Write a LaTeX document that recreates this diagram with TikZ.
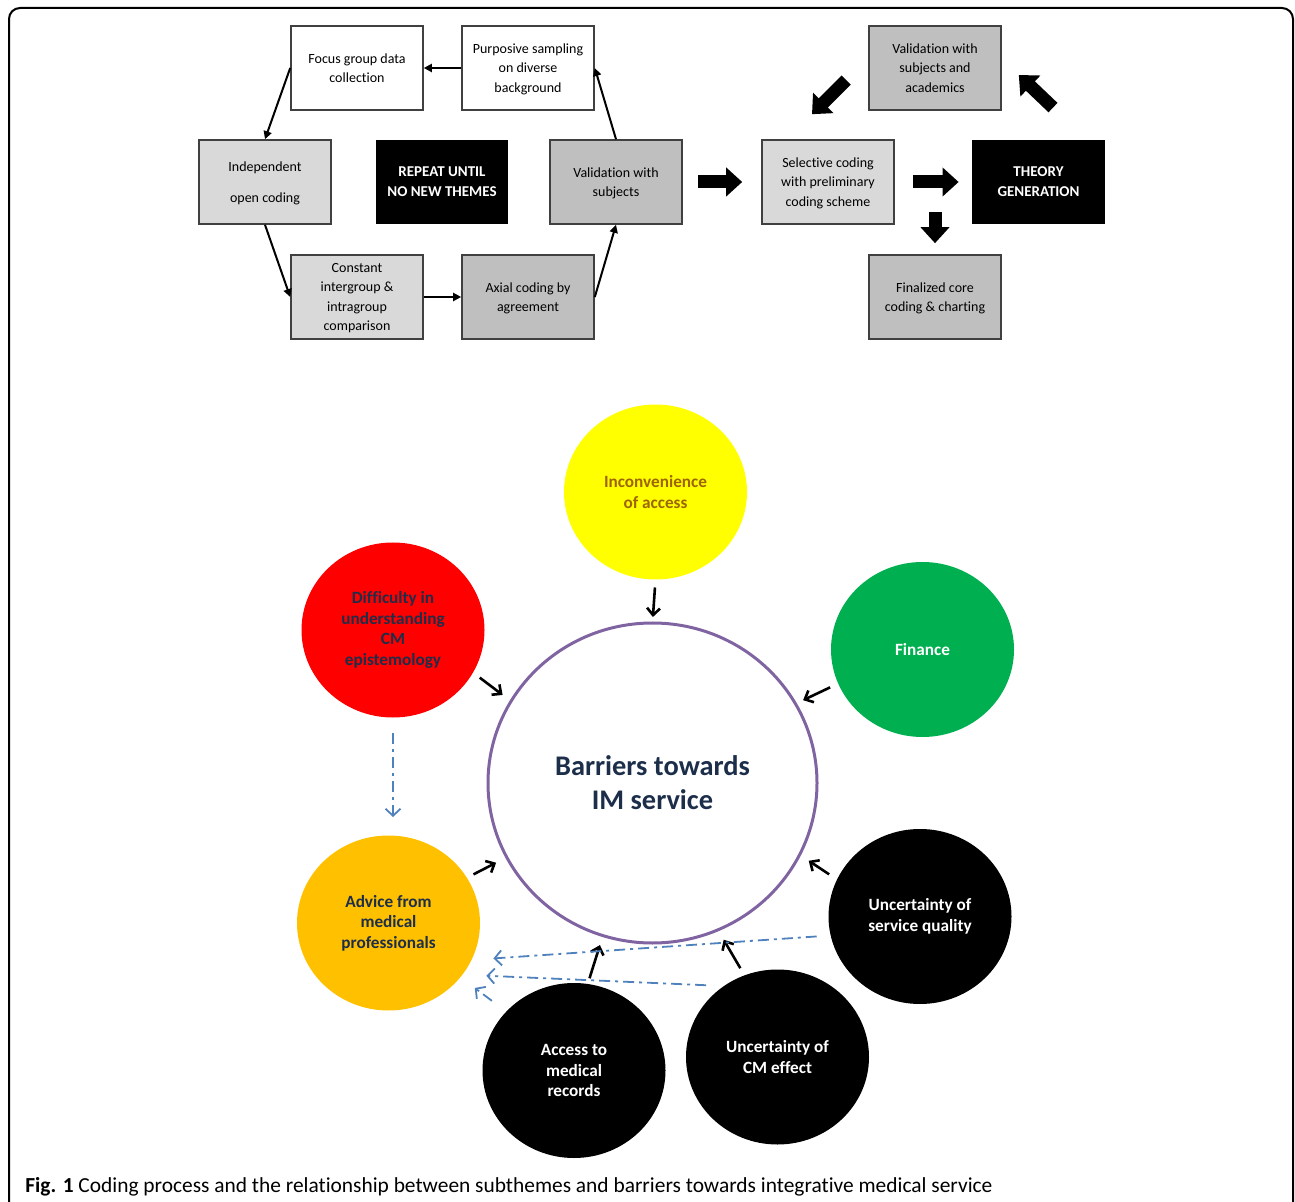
\documentclass[tikz,border=0pt]{standalone}
\usepackage{fontspec}
\setmainfont{Carlito}[Ligatures=NoCommon]
\usetikzlibrary{arrows.meta,shapes.geometric}
\definecolor{boxline}{HTML}{404040}
\definecolor{lightbox}{HTML}{D9D9D9}
\definecolor{midbox}{HTML}{BFBFBF}
\definecolor{corepurple}{HTML}{8064A2}
\definecolor{navytext}{HTML}{1C2E4A}
\definecolor{rednode}{HTML}{FF0000}
\definecolor{greennode}{HTML}{00B050}
\definecolor{yellownode}{HTML}{FFFF00}
\definecolor{goldnode}{HTML}{FFC000}
\definecolor{accesstext}{HTML}{9C6500}
\definecolor{dashblue}{HTML}{4F81BD}
\begin{document}
\begin{tikzpicture}[x=0.5pt, y=-0.5pt,
    codebox/.style={draw=boxline, line width=0.8pt, minimum width=66pt, minimum height=42pt,
        inner sep=0pt, align=center, text depth=0pt, font=\fontsize{7}{9.75}\selectfont},
    blackbox/.style={fill=black, text=white, minimum width=66pt, minimum height=42pt,
        inner sep=0pt, align=center, font=\fontsize{7.5}{10}\selectfont\bfseries},
    flow/.style={line width=1pt, -{Triangle[length=4pt,width=4pt]}},
    fat/.style={line width=6.5pt, -{Triangle[length=8pt,width=14pt]}},
    theme/.style={ellipse, minimum width=91.5pt, minimum height=87.5pt, inner sep=0pt,
        outer sep=0pt, align=center, font=\fontsize{8.6}{10.3}\selectfont\bfseries},
    push/.style={line width=1.3pt, -{Straight Barb[length=3.5pt,width=6.5pt]}},
    hint/.style={dashblue, line width=0.9pt, dash pattern=on 5.5pt off 2.5pt on 1.5pt off 2.5pt,
        -{Straight Barb[length=3.5pt,width=7.5pt]}}]
\useasboundingbox (0,0) rectangle (1295,1202);
\draw[line width=1pt, rounded corners=5.5pt] (9,8) rectangle (1293,1240);
% coding process
\foreach \n/\x/\y/\c/\t in {
    focus/357/68/white/{Focus group data\\collection},
    purp/528/68/white/{Purposive sampling\\on diverse\\background},
    indep/265/182/lightbox/{Independent\\[5.75pt]open coding},
    valid/616/182/midbox/{Validation with\\subjects},
    const/357/297/lightbox/{Constant\\intergroup \&\\intragroup\\comparison},
    axial/528/297/midbox/{Axial coding by\\agreement},
    sel/828/182/lightbox/{Selective coding\\with preliminary\\coding scheme},
    acad/935/68/midbox/{Validation with\\subjects and\\academics},
    final/935/297/midbox/{Finalized core\\coding \& charting}} {
    \node[codebox, fill=\c] (\n) at (\x,\y) {\t};
}
\node[blackbox] (repeat) at (442,182) {REPEAT UNTIL\\NO NEW THEMES};
\node[blackbox, minimum width=66.5pt] (theory) at (1038.5,182) {THEORY\\GENERATION};
\foreach \a/\b in {purp.west/focus.east, focus.west/indep.north, indep.south/const.west,
    const.east/axial.west, axial.east/valid.south, valid.north/purp.east}
    \draw[flow] (\a) -- (\b);
\draw[fat, shorten <=7.5pt, shorten >=9.5pt] (valid.east) -- (sel.west);
\draw[fat, shorten <=9pt, shorten >=6.5pt] (sel.east) -- (theory.west);
\draw[fat, shorten >=5.5pt] (final.north) ++(0,-42) -- (final.north);
\draw[fat] ([shift={(-22,12)}]acad.west) -- ([shift={(-16,-25)}]sel.north);
\draw[fat] ([shift={(14.5,-32)}]theory.north) -- ([shift={(17,7)}]acad.east);
% barriers
\node[ellipse, draw=corepurple, line width=1.5pt, minimum width=164.5pt, minimum height=160pt,
    inner sep=0pt, outer sep=0pt, align=center, text=navytext,
    font=\fontsize{14.2}{17}\selectfont\bfseries] (core) at (652.5,783) {Barriers towards\\IM service};
\foreach \n/\x/\y/\f/\c/\t in {
    yel/655.5/492/yellownode/accesstext/{Inconvenience\\of access},
    red/393/630/rednode/navytext/{Difficulty in\\understanding\\CM\\epistemology},
    fin/922.5/649.5/greennode/white/{Finance},
    adv/388.5/923/goldnode/navytext/{Advice from\\medical\\professionals},
    sq/920/916.5/black/white/{Uncertainty of\\service quality},
    cme/777.5/1057/black/white/{Uncertainty of\\CM effect},
    acc/574/1070.5/black/white/{Access to\\medical\\records}} {
    \node[theme, fill=\f, text=\c] (\n) at (\x,\y) {\t};
}
\foreach \a/\b/\s/\e in {yel.south/core.north/4/3, red.-28/core.150/4.25/5.3,
    fin.202/core.29/4.5/4.25, adv.30/core.207/3.75/6, sq.156/core.-26/4.75/5.5,
    cme.112/core.-66/4.15/5.75, acc.81/core.252/3/5}
    \draw[push, shorten <=\s pt, shorten >=\e pt] (\a) -- (\b);
\draw[hint, shorten <=7.75pt, shorten >=9.25pt] (red.south) -- (red.south |- adv.north);
\draw[hint, shorten <=7pt, shorten >=11pt] (sq.192) -- (adv.-24);
\draw[hint, shorten <=9pt, shorten >=12pt] (cme.127) -- (adv.-35);
\draw[hint, shorten <=9pt, shorten >=9pt] (acc.139) -- (adv.-37);
\node[anchor=base west, inner sep=0pt, font=\fontsize{10.7}{13}\selectfont] (caption) at (25,1192)
    {\textbf{Fig. 1} Coding process and the relationship between subthemes and barriers towards integrative medical service};
\end{tikzpicture}
\end{document}
